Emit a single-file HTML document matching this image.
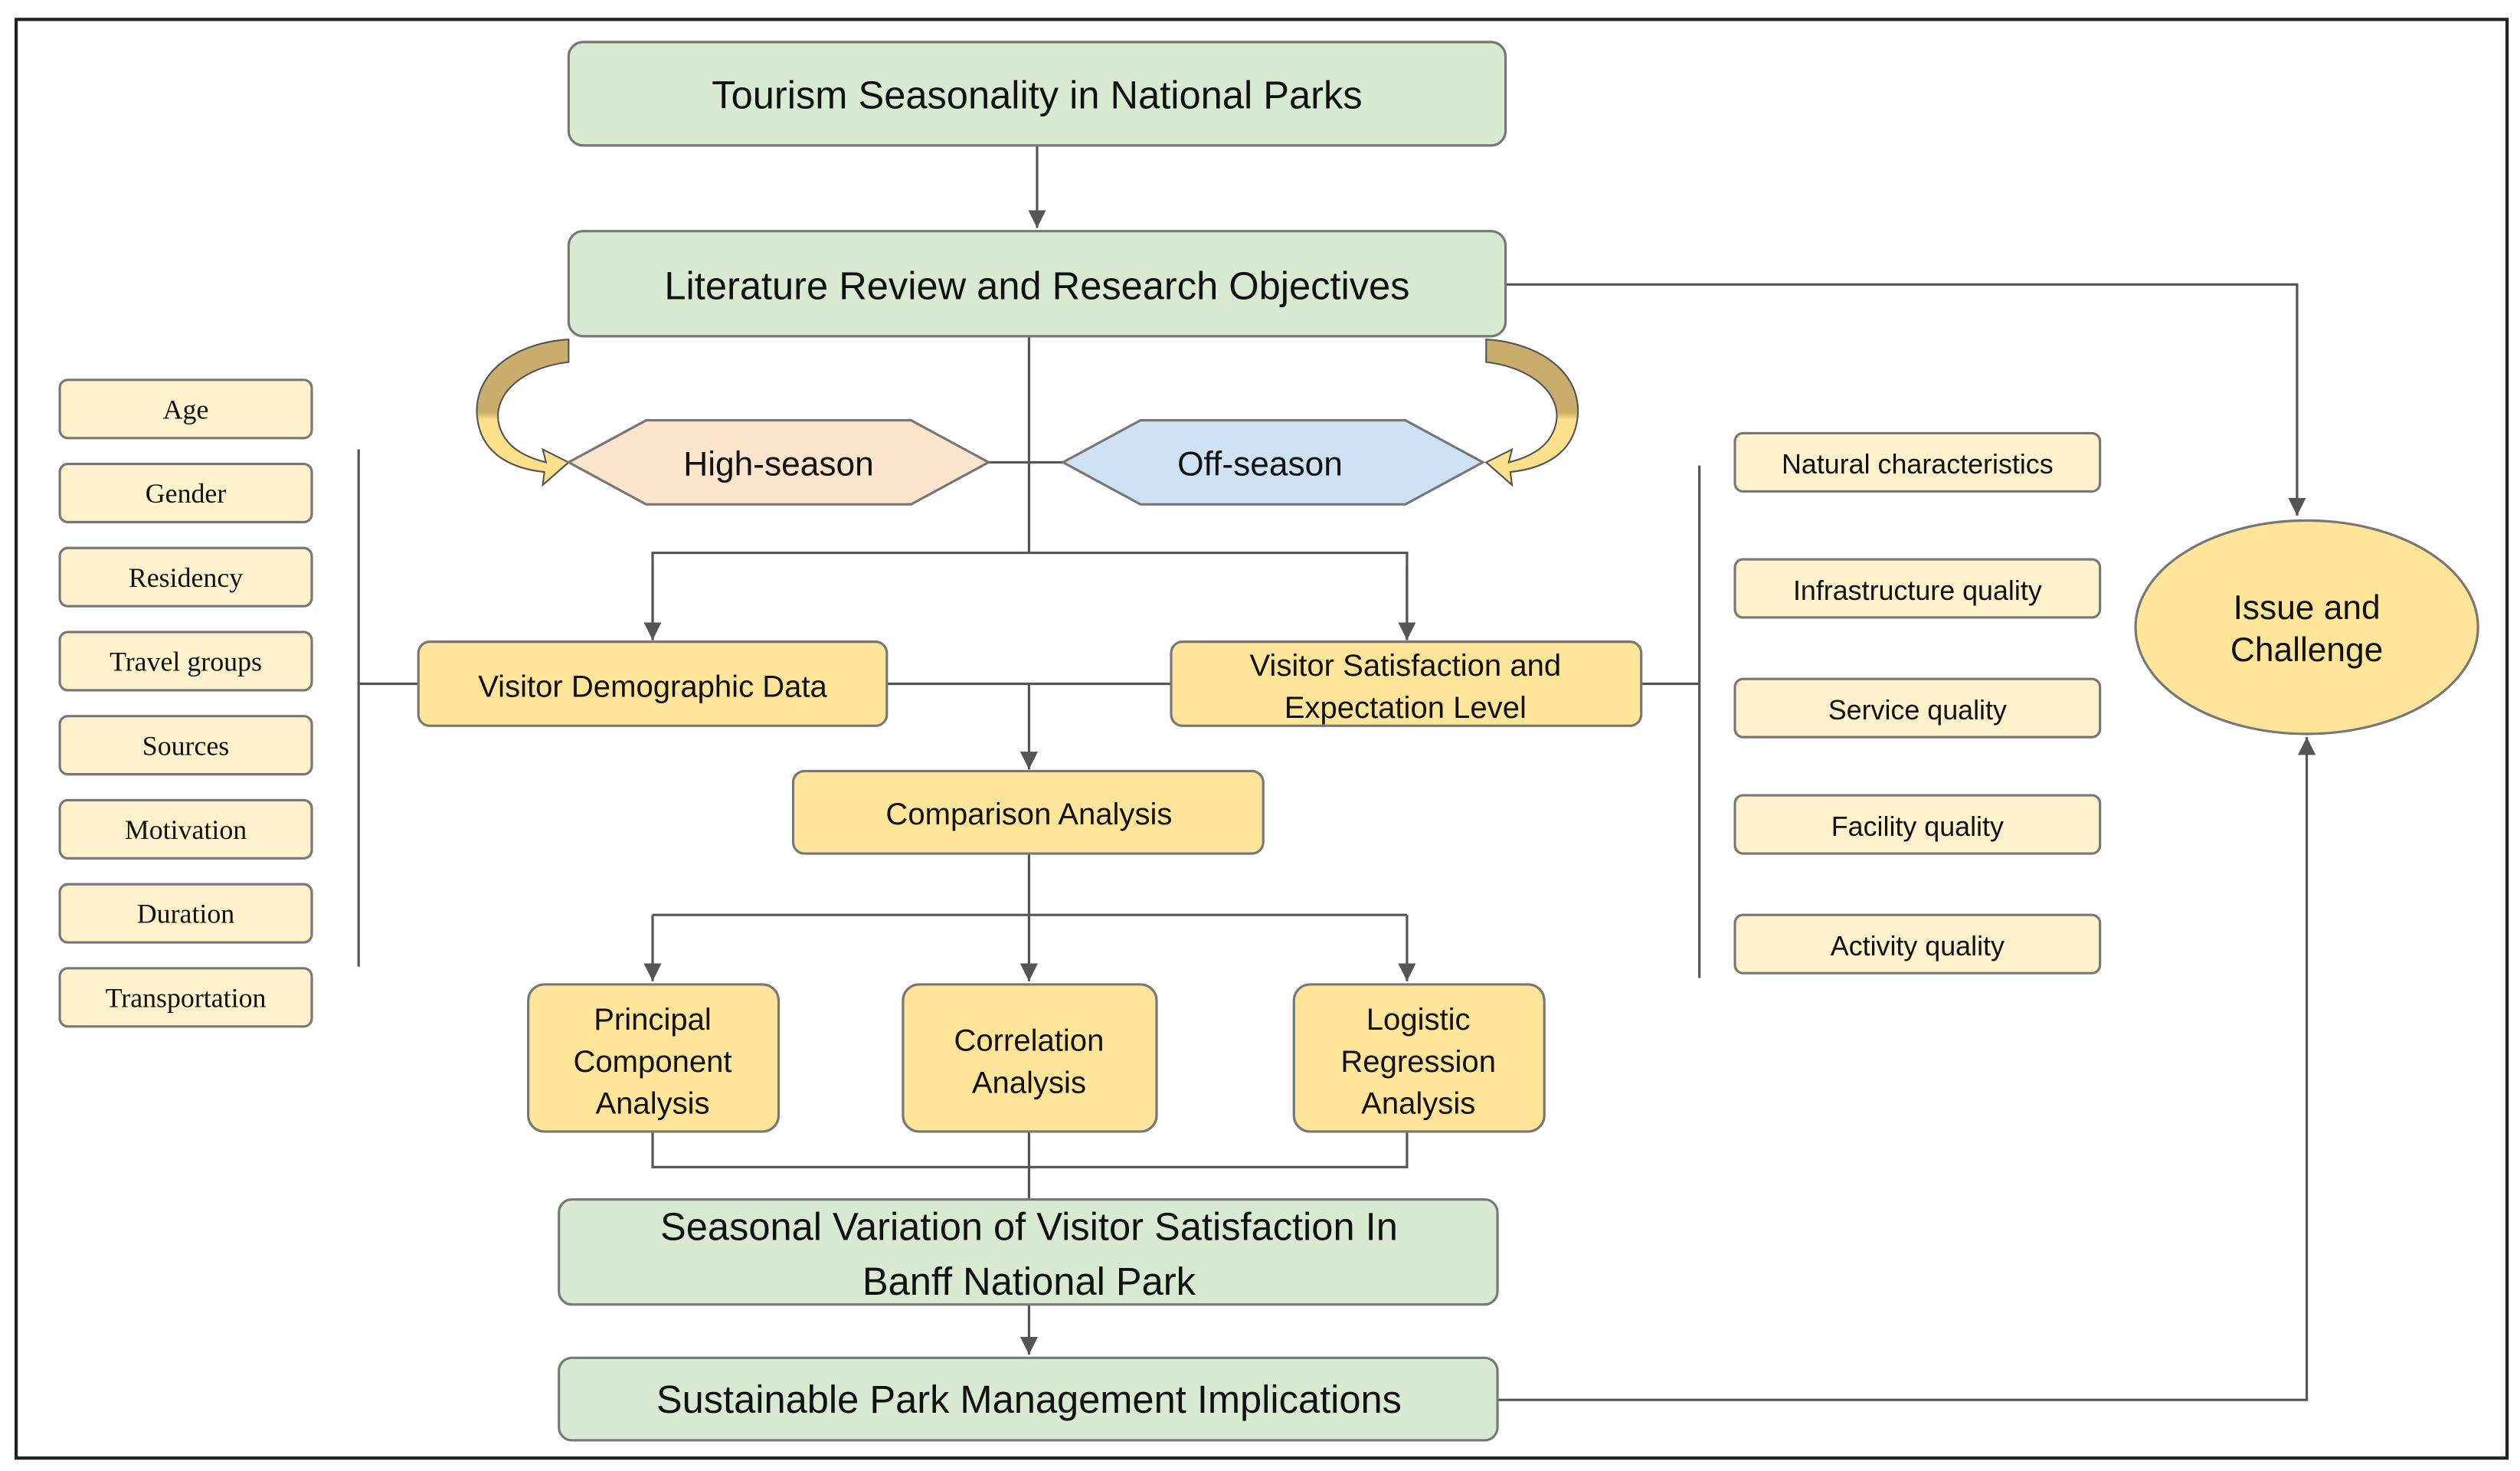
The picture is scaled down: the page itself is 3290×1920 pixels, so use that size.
<!DOCTYPE html>
<html><head><meta charset="utf-8"><style>
html,body{margin:0;padding:0;background:#fff;}
svg{display:block;}
text{font-family:"Liberation Sans",sans-serif;fill:#111;}
.s{font-family:"Liberation Serif",serif;}
</style></head><body>
<svg width="3290" height="1920" viewBox="0 0 1560 910" preserveAspectRatio="none" xmlns="http://www.w3.org/2000/svg">
<defs>
<marker id="a" markerWidth="10" markerHeight="10" refX="5" refY="8" orient="auto" markerUnits="userSpaceOnUse">
<path d="M0,0 L10,0 L5,10 z" transform="rotate(-90 5 5)" fill="#555"/></marker>
<marker id="ar" viewBox="0 0 10 10" markerWidth="11" markerHeight="11" refX="10" refY="5" orient="auto" markerUnits="userSpaceOnUse"><path d="M0,0 L10,5 L0,10 z" fill="#555"/></marker>
<linearGradient id="g1" x1="0" y1="0" x2="0" y2="1"><stop offset="0" stop-color="#c9ad6a"/><stop offset="0.5" stop-color="#c9ad6a"/><stop offset="0.55" stop-color="#fde08a"/><stop offset="1" stop-color="#fde08a"/></linearGradient>
</defs>
<rect x="10" y="12" width="1542" height="890" fill="#fff" stroke="#222" stroke-width="2"/>
<g stroke="#555" stroke-width="1.5" fill="none">
<line x1="642" y1="90" x2="642" y2="141" marker-end="url(#ar)"/>
<polyline points="932,176 1422,176 1422,319" marker-end="url(#ar)"/>
<line x1="637" y1="208" x2="637" y2="342"/>
<polyline points="404,396 404,342 871,342 871,396" />
<line x1="404" y1="350" x2="404" y2="396" marker-end="url(#ar)"/>
<line x1="871" y1="350" x2="871" y2="396" marker-end="url(#ar)"/>
<line x1="612" y1="286" x2="658" y2="286"/>
<line x1="549" y1="423" x2="725" y2="423"/>
<line x1="637" y1="423" x2="637" y2="476" marker-end="url(#ar)"/>
<line x1="222" y1="278" x2="222" y2="598"/>
<line x1="222" y1="423" x2="259" y2="423"/>
<line x1="1052" y1="288" x2="1052" y2="605"/>
<line x1="1016" y1="423" x2="1052" y2="423"/>
<line x1="637" y1="528" x2="637" y2="566"/>
<line x1="404" y1="566" x2="871" y2="566"/>
<line x1="404" y1="566" x2="404" y2="607" marker-end="url(#ar)"/>
<line x1="637" y1="566" x2="637" y2="607" marker-end="url(#ar)"/>
<line x1="871" y1="566" x2="871" y2="607" marker-end="url(#ar)"/>
<polyline points="404,700 404,722 871,722 871,700"/>
<line x1="637" y1="700" x2="637" y2="742"/>
<line x1="637" y1="807" x2="637" y2="838" marker-end="url(#ar)"/>
<polyline points="927,866 1428,866 1428,456" marker-end="url(#ar)"/>
</g>
<!-- curved arrows -->
<path d="M352,210 L352,224 C318,228 300,250 312,270 C318,280 330,284 338,286 L336,278 L352,286 L336,300 L337,292 C318,290 300,282 296,262 C290,232 318,212 352,210 Z" fill="url(#g1)" stroke="#555" stroke-width="1"/>
<path d="M920,210 L920,224 C954,228 972,250 960,270 C954,280 942,284 934,286 L936,278 L920,286 L936,300 L935,292 C954,290 972,282 976,262 C982,232 954,212 920,210 Z" fill="url(#g1)" stroke="#555" stroke-width="1"/>
<g stroke="#777" stroke-width="1.5">
<rect x="352" y="26" width="580" height="64" rx="9" fill="#d9ead3"/>
<rect x="352" y="143" width="580" height="65" rx="9" fill="#d9ead3"/>
<polygon points="352,286 400,260 564,260 612,286 564,312 400,312" fill="#fce5cd"/>
<polygon points="658,286 706,260 870,260 918,286 870,312 706,312" fill="#cfe2f3"/>
<rect x="259" y="397" width="290" height="52" rx="7" fill="#ffe599"/>
<rect x="725" y="397" width="291" height="52" rx="7" fill="#ffe599"/>
<rect x="491" y="477" width="291" height="51" rx="7" fill="#ffe599"/>
<rect x="327" y="609" width="155" height="91" rx="10" fill="#ffe599"/>
<rect x="559" y="609" width="157" height="91" rx="10" fill="#ffe599"/>
<rect x="801" y="609" width="155" height="91" rx="10" fill="#ffe599"/>
<rect x="346" y="742" width="581" height="65" rx="8" fill="#d9ead3"/>
<rect x="346" y="840" width="581" height="51" rx="8" fill="#d9ead3"/>
<ellipse cx="1428" cy="388" rx="106" ry="66" fill="#ffe599"/>
<g fill="#fff2cc">
<rect x="37" y="235" width="156" height="36" rx="5"/>
<rect x="37" y="287" width="156" height="36" rx="5"/>
<rect x="37" y="339" width="156" height="36" rx="5"/>
<rect x="37" y="391" width="156" height="36" rx="5"/>
<rect x="37" y="443" width="156" height="36" rx="5"/>
<rect x="37" y="495" width="156" height="36" rx="5"/>
<rect x="37" y="547" width="156" height="36" rx="5"/>
<rect x="37" y="599" width="156" height="36" rx="5"/>
<rect x="1074" y="268" width="226" height="36" rx="5"/>
<rect x="1074" y="346" width="226" height="36" rx="5"/>
<rect x="1074" y="420" width="226" height="36" rx="5"/>
<rect x="1074" y="492" width="226" height="36" rx="5"/>
<rect x="1074" y="566" width="226" height="36" rx="5"/>
</g>
</g>
<g text-anchor="middle">
<text x="642" y="67" font-size="24">Tourism Seasonality in National Parks</text>
<text x="642" y="185" font-size="24">Literature Review and Research Objectives</text>
<text x="482" y="294" font-size="21">High-season</text>
<text x="780" y="294" font-size="21">Off-season</text>
<text x="404" y="431" font-size="19">Visitor Demographic Data</text>
<text x="870" y="418" font-size="19">Visitor Satisfaction and</text>
<text x="870" y="444" font-size="19">Expectation  Level</text>
<text x="637" y="510" font-size="19">Comparison Analysis</text>
<text x="404" y="637" font-size="19">Principal</text>
<text x="404" y="663" font-size="19">Component</text>
<text x="404" y="689" font-size="19">Analysis</text>
<text x="637" y="650" font-size="19">Correlation</text>
<text x="637" y="676" font-size="19">Analysis</text>
<text x="878" y="637" font-size="19">Logistic</text>
<text x="878" y="663" font-size="19">Regression</text>
<text x="878" y="689" font-size="19">Analysis</text>
<text x="637" y="767" font-size="24">Seasonal Variation of Visitor Satisfaction In</text>
<text x="637" y="801" font-size="24">Banff National Park</text>
<text x="637" y="874" font-size="24">Sustainable Park Management Implications</text>
<text x="1428" y="383" font-size="21">Issue and</text>
<text x="1428" y="409" font-size="21">Challenge</text>
<g class="s" font-size="17">
<text class="s" x="115" y="259">Age</text>
<text class="s" x="115" y="311">Gender</text>
<text class="s" x="115" y="363">Residency</text>
<text class="s" x="115" y="415">Travel groups</text>
<text class="s" x="115" y="467">Sources</text>
<text class="s" x="115" y="519">Motivation</text>
<text class="s" x="115" y="571">Duration</text>
<text class="s" x="115" y="623">Transportation</text>
</g>
<g font-size="17">
<text x="1187" y="293">Natural characteristics</text>
<text x="1187" y="371">Infrastructure quality</text>
<text x="1187" y="445">Service quality</text>
<text x="1187" y="517">Facility quality</text>
<text x="1187" y="591">Activity quality</text>
</g>
</g>
</svg>
</body></html>
